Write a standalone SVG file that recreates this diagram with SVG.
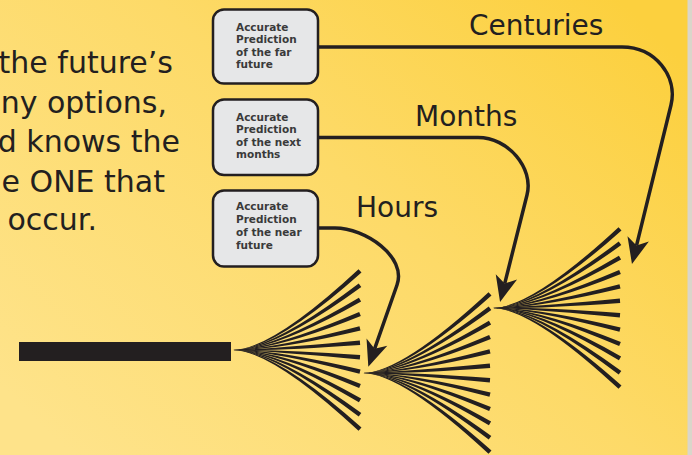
<svg xmlns="http://www.w3.org/2000/svg" xmlns:xlink="http://www.w3.org/1999/xlink" width="692" height="455" viewBox="0 0 692 455">
  <style>
    .para { font-family: "DejaVu Sans", Verdana, sans-serif; font-size: 30px; fill: #231f20; }
    .lbl { font-family: "DejaVu Sans", Verdana, sans-serif; font-size: 28px; fill: #231f20; }
    .box { fill: #e6e7e8; stroke: #231f20; stroke-width: 2.5; }
    .btxt { font-family: "DejaVu Sans", Verdana, sans-serif; font-size: 10.5px; font-weight: bold; fill: #3a3a3a; }
    .conn { fill: none; stroke: #231f20; stroke-width: 3.5; }
    .ray { fill: #231f20; }
  </style>
  <defs>
    <linearGradient id="bg" x1="0" y1="0.85" x2="1" y2="0.15">
      <stop offset="0" stop-color="#fee38a"/>
      <stop offset="0.55" stop-color="#fdda68"/>
      <stop offset="1" stop-color="#fcd03e"/>
    </linearGradient>
    <marker id="ah" markerUnits="userSpaceOnUse" orient="auto" refX="0" refY="0" markerWidth="40" markerHeight="40" style="overflow:visible">
      <path d="M19,0 L-7,-11 L0,0 L-7,11 Z" fill="#231f20"/>
    </marker>
    <g id="fan" class="ray">
      <path d="M0,0Q40.74,0.82 128.48,-77.57L125.52,-80.83Q39.26,-0.82 0,0Z"/>
      <path d="M0,0Q40.66,0.88 128.31,-63.04L125.69,-66.56Q39.34,-0.88 0,0Z"/>
      <path d="M0,0Q40.55,0.95 128.1,-48.5L125.9,-52.3Q39.45,-0.95 0,0Z"/>
      <path d="M0,0Q40.42,1.02 127.84,-33.97L126.16,-38.03Q39.58,-1.02 0,0Z"/>
      <path d="M0,0Q40.27,1.07 127.53,-19.46L126.47,-23.74Q39.73,-1.07 0,0Z"/>
      <path d="M0,0Q40.09,1.1 127.18,-5.01L126.82,-9.39Q39.91,-1.1 0,0Z"/>
      <path d="M0,0Q39.91,1.1 126.82,9.39L127.18,5.01Q40.09,-1.1 0,0Z"/>
      <path d="M0,0Q39.73,1.07 126.47,23.74L127.53,19.46Q40.27,-1.07 0,0Z"/>
      <path d="M0,0Q39.58,1.02 126.16,38.03L127.84,33.97Q40.42,-1.02 0,0Z"/>
      <path d="M0,0Q39.45,0.95 125.9,52.3L128.1,48.5Q40.55,-0.95 0,0Z"/>
      <path d="M0,0Q39.34,0.88 125.69,66.56L128.31,63.04Q40.66,-0.88 0,0Z"/>
      <path d="M0,0Q39.26,0.82 125.52,80.83L128.48,77.57Q40.74,-0.82 0,0Z"/>
    </g>
  </defs>

  <rect x="0" y="0" width="692" height="455" fill="url(#bg)"/>
  <rect x="687.5" y="0" width="4.5" height="455" fill="#dad6ca"/>

  <g id="paragraph">
    <text class="para" x="173" y="73" text-anchor="end">the future’s</text>
    <text class="para" x="167" y="112.5" text-anchor="end">ny options,</text>
    <text class="para" x="180" y="152" text-anchor="end">d knows the</text>
    <text class="para" x="165" y="191.5" text-anchor="end">e ONE that</text>
    <text class="para" x="97" y="230" text-anchor="end">occur.</text>
  </g>

  <g id="timeline">
    <rect x="19" y="342" width="212" height="19" fill="#231f20"/>
    <use xlink:href="#fan" href="#fan" x="233" y="350"/>
    <use xlink:href="#fan" href="#fan" x="363" y="373"/>
    <use xlink:href="#fan" href="#fan" x="493" y="308"/>
  </g>

  <g id="box-centuries">
    <rect class="box" x="213" y="9.5" width="105" height="74" rx="11"/>
    <text class="btxt" x="236" y="30.5">Accurate</text>
    <text class="btxt" x="236" y="43">Prediction</text>
    <text class="btxt" x="236" y="55.5">of the far</text>
    <text class="btxt" x="236" y="68">future</text>
  </g>
  <g id="box-months">
    <rect class="box" x="213" y="99.5" width="105" height="75.5" rx="11"/>
    <text class="btxt" x="236" y="120.5">Accurate</text>
    <text class="btxt" x="236" y="133">Prediction</text>
    <text class="btxt" x="236" y="145.5">of the next</text>
    <text class="btxt" x="236" y="158">months</text>
  </g>
  <g id="box-hours">
    <rect class="box" x="213" y="190.5" width="105" height="76" rx="11"/>
    <text class="btxt" x="236" y="210">Accurate</text>
    <text class="btxt" x="236" y="223">Prediction</text>
    <text class="btxt" x="236" y="236">of the near</text>
    <text class="btxt" x="236" y="249">future</text>
  </g>

  <g id="connectors">
    <path class="conn" d="M318,47 H622 C655,47 678,76 671,105 L636.5,245.6" marker-end="url(#ah)"/>
    <path class="conn" d="M318,137.5 H478 C508,137.5 534,168 527,195 L504.7,283.6" marker-end="url(#ah)"/>
    <path class="conn" d="M318,228 H335 C365,228 407,256.7 397,285 L374.6,348.8" marker-end="url(#ah)"/>
    <text class="lbl" x="469" y="35">Centuries</text>
    <text class="lbl" x="415" y="126">Months</text>
    <text class="lbl" x="356" y="217">Hours</text>
  </g>
</svg>
